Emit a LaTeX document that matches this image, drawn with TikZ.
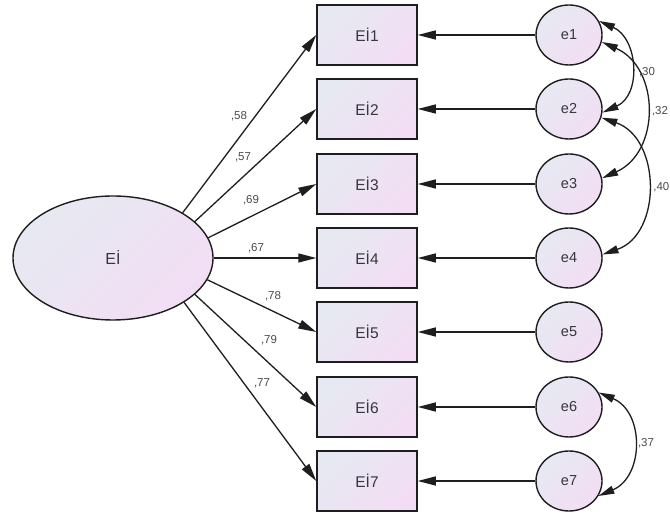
\documentclass[tikz,border=0pt]{standalone}
\usepackage{fontspec}
\setmainfont{Liberation Sans}
\usetikzlibrary{arrows.meta,shapes.geometric}
\definecolor{fillL}{RGB}{230,233,241}
\definecolor{fillR}{RGB}{243,221,245}
\definecolor{ink}{RGB}{30,30,30}
\definecolor{txt}{RGB}{55,55,60}
\definecolor{lab}{RGB}{75,75,80}
\begin{document}
\begin{tikzpicture}[x=1bp,y=1bp,
  obs/.style={draw=ink, line width=1.5bp, minimum width=100bp, minimum height=60bp,
    inner sep=0pt, left color=fillL, right color=fillR, shading angle=45,
    text=txt, font=\fontsize{15.5bp}{18bp}\selectfont},
  lat/.style={ellipse, draw=ink, line width=1.4bp, minimum width=200bp, minimum height=124bp,
    inner sep=0pt, left color=fillL, right color=fillR, shading angle=45,
    text=txt, font=\fontsize{16bp}{19bp}\selectfont},
  err/.style={ellipse, draw=ink, line width=1.4bp, minimum width=66bp, minimum height=60bp,
    inner sep=0pt, left color=fillL, right color=fillR, shading angle=45,
    text=txt, font=\fontsize{14.5bp}{17bp}\selectfont},
  path/.style={draw=ink, line width=1.3bp, -{Triangle[length=18bp,width=9bp]}},
  cov/.style={draw=ink, line width=1.3bp, {Triangle[length=16bp,width=8bp]}-{Triangle[length=16bp,width=8bp]}},
  lbl/.style={text=lab, inner sep=0pt, font=\fontsize{11.5bp}{13bp}\selectfont}
]
\useasboundingbox (0,0) rectangle (670,514);
\fill[white] (0,0) rectangle (670,514);

\node[lat] (Ei) at (113,256) {Eİ};

\node[obs] (b1) at (367,479) {Eİ1};
\node[obs] (b2) at (367,405) {Eİ2};
\node[obs] (b3) at (367,330) {Eİ3};
\node[obs] (b4) at (367,256) {Eİ4};
\node[obs] (b5) at (367,182) {Eİ5};
\node[obs] (b6) at (367,107) {Eİ6};
\node[obs] (b7) at (367,33) {Eİ7};

\node[err] (e1) at (569,479) {e1};
\node[err] (e2) at (569,405) {e2};
\node[err] (e3) at (569,330) {e3};
\node[err] (e4) at (569,256) {e4};
\node[err] (e5) at (569,182) {e5};
\node[err] (e6) at (569,107) {e6};
\node[err] (e7) at (569,33) {e7};

\draw[path] (Ei.33) -- (b1.west);
\draw[path] (Ei.24) -- (b2.west);
\draw[path] (Ei.12) -- (b3.west);
\draw[path] (Ei.east) -- (b4.west);
\draw[path] (Ei.-13) -- (b5.west);
\draw[path] (Ei.-24) -- (b6.west);
\draw[path] (Ei.-32) -- (b7.west);

\foreach \i in {1,...,7}{\draw[path] (e\i.west) -- (b\i.east);}

\draw[cov] (e1.25) to[out=-24,in=24,looseness=1.2] (e2.-6);
\draw[cov] (e1.-12) to[out=-24,in=24,looseness=1.2] (e3.10);
\draw[cov] (e2.-15) to[out=-19,in=19,looseness=1.18] (e4.6);
\draw[cov] (e6.26) to[out=-23,in=23,looseness=1.23] (e7.-27);

\node[lbl] (l1) at (239,398) {,58};
\node[lbl] (l2) at (243,357) {,57};
\node[lbl] (l3) at (251,314) {,69};
\node[lbl] (l4) at (256,266) {,67};
\node[lbl] (l5) at (273,218) {,78};
\node[lbl] (l6) at (269,174) {,79};
\node[lbl] (l7) at (262,131) {,77};

\node[lbl] (c1) at (647,442) {,30};
\node[lbl] (c2) at (660,403) {,32};
\node[lbl, anchor=east] (c3) at (669.5,327) {,40};
\node[lbl] (c4) at (646,71) {,37};
\end{tikzpicture}
\end{document}
